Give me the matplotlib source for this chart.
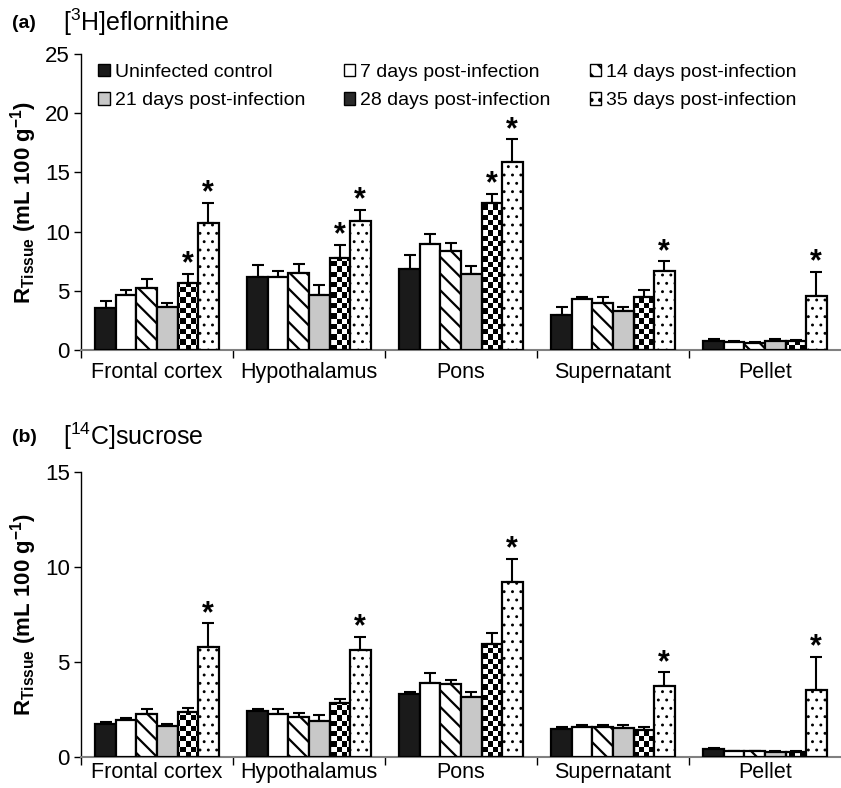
import numpy as np
import matplotlib
matplotlib.use("Agg")
import matplotlib.pyplot as plt
from matplotlib.patches import Patch

plt.rcParams['font.family'] = ['Liberation Sans', 'DejaVu Sans']
plt.rcParams['mathtext.fontset'] = 'custom'
plt.rcParams['mathtext.rm'] = 'Liberation Sans'
plt.rcParams['mathtext.bf'] = 'Liberation Sans:bold'
plt.rcParams['hatch.linewidth'] = 1.6

# regions and groups
regions = ['Frontal cortex', 'Hypothalamus', 'Pons', 'Supernatant', 'Pellet']
groups = ['Uninfected control', '7 days post-infection', '14 days post-infection',
          '21 days post-infection', '28 days post-infection', '35 days post-infection']

# (a) [3H]eflornithine, mean and SEM per group
a_uninf = [3.56, 6.19, 6.80, 2.97, 0.76]
a_d7 = [4.66, 6.20, 8.98, 4.30, 0.70]
a_d14 = [5.25, 6.50, 8.40, 4.00, 0.60]
a_d21 = [3.64, 4.66, 6.40, 3.30, 0.76]
a_d28 = [5.68, 7.80, 12.40, 4.50, 0.75]
a_d35 = [10.76, 10.90, 15.90, 6.70, 4.60]
a_sem_uninf = [0.59, 1.01, 1.25, 0.63, 0.17]
a_sem_d7 = [0.42, 0.50, 0.82, 0.20, 0.05]
a_sem_d14 = [0.75, 0.80, 0.65, 0.50, 0.05]
a_sem_d21 = [0.34, 0.84, 0.70, 0.36, 0.14]
a_sem_d28 = [0.76, 1.10, 0.80, 0.60, 0.10]
a_sem_d35 = [1.68, 0.95, 1.90, 0.80, 2.00]
# significance marks (group index, region index)
a_stars = [(4, 0), (5, 0), (4, 1), (5, 1), (4, 2), (5, 2), (5, 3), (5, 4)]

# (b) [14C]sucrose
b_uninf = [1.72, 2.42, 3.30, 1.44, 0.39]
b_d7 = [1.93, 2.26, 3.90, 1.58, 0.28]
b_d14 = [2.23, 2.10, 3.84, 1.55, 0.28]
b_d21 = [1.60, 1.86, 3.14, 1.51, 0.25]
b_d28 = [2.35, 2.83, 5.95, 1.42, 0.25]
b_d35 = [5.76, 5.62, 9.18, 3.72, 3.49]
b_sem_uninf = [0.12, 0.11, 0.12, 0.12, 0.05]
b_sem_d7 = [0.09, 0.23, 0.52, 0.07, 0.04]
b_sem_d14 = [0.28, 0.22, 0.20, 0.10, 0.03]
b_sem_d21 = [0.14, 0.33, 0.28, 0.14, 0.04]
b_sem_d28 = [0.23, 0.21, 0.56, 0.14, 0.03]
b_sem_d35 = [1.26, 0.71, 1.24, 0.72, 1.76]
b_stars = [(5, 0), (5, 1), (5, 2), (5, 3), (5, 4)]

styles = [
    dict(facecolor='#1a1a1a', hatch=None, hlw=1.6),
    dict(facecolor='white', hatch=None, hlw=1.6),
    dict(facecolor='white', hatch='\\\\', hlw=1.6),
    dict(facecolor='#c8c8c8', hatch=None, hlw=1.6),
    dict(facecolor='none', hatch=None, hlw=1.6),   # checkerboard, drawn as image
    dict(facecolor='white', hatch='..', hlw=0.9),
]

W = 841
H = 788
fig = plt.figure(figsize=(W / 100, H / 100), dpi=100)
ax_a = fig.add_axes([81 / W, 1 - 350 / H, 760 / W, 296 / H])
ax_b = fig.add_axes([81 / W, 1 - 756.7 / H, 760 / W, 284.7 / H])

bw = 0.135
x = np.arange(len(regions))


def draw_panel(ax, means, sems, stars, ymax, step, xpad):
    ax.set_xlim(-0.5, len(regions) - 0.5)
    ax.set_ylim(0, ymax)
    bb = ax.get_window_extent()
    ny = int(round(bb.height / 5.2))
    nx = int(round(bb.width / 5.2))
    checker = (np.add.outer(np.arange(ny), np.arange(nx)) % 2).astype(float)
    tops = []
    for i, (m, s) in enumerate(zip(means, sems)):
        pos = x + (i - 2.5) * bw
        st = styles[i]
        ax.errorbar(pos, m, yerr=[np.zeros(len(s)), s], fmt='none', ecolor='black',
                    elinewidth=1.5, capsize=4, capthick=1.5, zorder=1)
        with plt.rc_context({'hatch.linewidth': st['hlw']}):
            bars = ax.bar(pos, m, bw, facecolor=st['facecolor'], edgecolor='black',
                          linewidth=1.6, hatch=st['hatch'], zorder=3)
        if i == 4:
            for r in bars:
                im = ax.imshow(checker, cmap='gray', extent=(-0.5, len(regions) - 0.5, 0, ymax),
                               aspect='auto', interpolation='nearest', zorder=2, vmin=0, vmax=1)
                im.set_clip_path(r)
        tops.append(np.array(m) + np.array(s))
    for gi, ri in stars:
        ax.annotate('*', (x[ri] + (gi - 2.5) * bw, tops[gi][ri]), xytext=(0, 1),
                    textcoords='offset points', ha='center', va='baseline',
                    fontsize=22, fontweight='bold')
    ax.set_xlim(-0.5, len(regions) - 0.5)
    ax.set_ylim(0, ymax)
    ax.set_yticks(np.arange(0, ymax + 0.1, step))
    ax.set_xticks(x)
    ax.set_xticklabels(regions, fontsize=15.5)
    ax.set_xticks(np.arange(-0.5, len(regions) - 1, 1), minor=True)
    ax.tick_params(axis='x', which='major', length=0, pad=xpad)
    ax.tick_params(axis='x', which='minor', length=6, width=1, direction='out')
    ax.tick_params(axis='y', labelsize=16, length=5, width=1, pad=3)
    for sp in ['top', 'right']:
        ax.spines[sp].set_visible(False)
    ax.spines['bottom'].set_color('#808080')
    ax.spines['bottom'].set_linewidth(1.5)
    ax.spines['left'].set_linewidth(1)
    ax.set_ylabel(r'$\mathbf{R_{Tissue}}$ (mL 100 g$^{\mathbf{-1}}$)', fontsize=16,
                  fontweight='bold', labelpad=4)


draw_panel(ax_a, [a_uninf, a_d7, a_d14, a_d21, a_d28, a_d35],
           [a_sem_uninf, a_sem_d7, a_sem_d14, a_sem_d21, a_sem_d28, a_sem_d35],
           a_stars, 25, 5, 9)
draw_panel(ax_b, [b_uninf, b_d7, b_d14, b_d21, b_d28, b_d35],
           [b_sem_uninf, b_sem_d7, b_sem_d14, b_sem_d21, b_sem_d28, b_sem_d35],
           b_stars, 15, 5, 4)

# panel titles
fig.text(12 / W, 1 - 23 / H, '(a)', fontsize=14, fontweight='bold', va='center')
fig.text(63 / W, 1 - 22 / H, r'[$^{3}$H]eflornithine', fontsize=18, va='center')
fig.text(12 / W, 1 - 437 / H, '(b)', fontsize=14, fontweight='bold', va='center')
fig.text(63 / W, 1 - 436 / H, r'[$^{14}$C]sucrose', fontsize=18, va='center')

# legend (row-wise order for 3 columns)
handles = []
for i, g in enumerate(groups):
    st = styles[i]
    if i == 4:
        handles.append(Patch(facecolor='#2a2a2a', edgecolor='black', label=g))
    else:
        with plt.rc_context({'hatch.linewidth': 1.0}):
            handles.append(Patch(facecolor=st['facecolor'], edgecolor='black',
                                 hatch=st['hatch'], label=g))
order = [0, 3, 1, 4, 2, 5]
fig.legend([handles[k] for k in order], [groups[k] for k in order], ncol=3,
           loc='upper left', bbox_to_anchor=(98 / W, 1 - 64 / H), frameon=False,
           fontsize=14, handlelength=0.6, handleheight=0.6, handletextpad=0.25,
           columnspacing=2.0, labelspacing=0.58, borderpad=0, borderaxespad=0)

fig.savefig('out.png', dpi=100)
